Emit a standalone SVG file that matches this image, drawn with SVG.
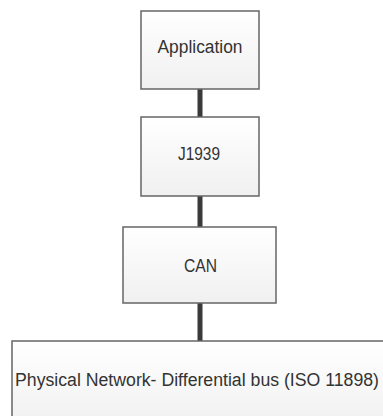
<svg xmlns="http://www.w3.org/2000/svg" width="383" height="416" viewBox="0 0 383 416">
  <defs>
    <linearGradient id="boxfill" x1="0" y1="0" x2="0" y2="1">
      <stop offset="0" stop-color="#ffffff"/>
      <stop offset="1" stop-color="#f0f0f0"/>
    </linearGradient>
  </defs>
  <style>
    .box { fill: url(#boxfill); stroke: #666666; stroke-width: 1.5; }
    .lbl { font-family: "Liberation Sans", Arial, sans-serif; font-size: 18px; fill: #333333; text-anchor: middle; }
    .lblL { font-family: "Liberation Sans", Arial, sans-serif; font-size: 18px; fill: #333333; }
    .conn { stroke: #3a3a3a; stroke-width: 5; fill: none; }
  </style>
  <rect width="383" height="416" fill="#ffffff"/>
  <g id="connectors">
    <line class="conn" x1="200" y1="89" x2="200" y2="117"/>
    <line class="conn" x1="200" y1="196" x2="200" y2="227"/>
    <line class="conn" x1="200" y1="303" x2="200" y2="341"/>
  </g>
  <g id="application">
    <rect class="box" x="141" y="11" width="118" height="78"/>
    <text class="lbl" x="200" y="53" textLength="85" lengthAdjust="spacingAndGlyphs">Application</text>
  </g>
  <g id="j1939">
    <rect class="box" x="141" y="117" width="118" height="79"/>
    <text class="lbl" x="199" y="160" textLength="42" lengthAdjust="spacingAndGlyphs">J1939</text>
  </g>
  <g id="can">
    <rect class="box" x="123" y="227" width="153" height="76"/>
    <text class="lbl" x="200.5" y="272" textLength="33" lengthAdjust="spacingAndGlyphs">CAN</text>
  </g>
  <g id="physical">
    <rect class="box" x="12" y="341" width="385" height="90"/>
    <text class="lblL" x="15" y="386" textLength="364" lengthAdjust="spacingAndGlyphs">Physical Network- Differential bus (ISO 11898)</text>
  </g>
</svg>
